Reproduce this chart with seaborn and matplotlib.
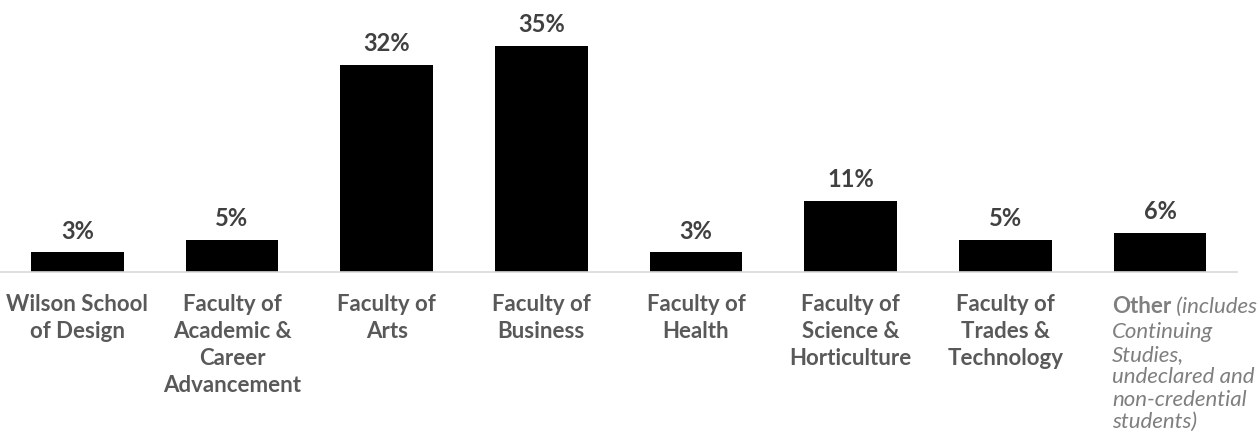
import matplotlib
matplotlib.use("Agg")
import matplotlib.pyplot as plt
import seaborn as sns
import pandas as pd

categories = [
    "Wilson School\nof Design",
    "Faculty of\nAcademic &\nCareer\nAdvancement",
    "Faculty of\nArts",
    "Faculty of\nBusiness",
    "Faculty of\nHealth",
    "Faculty of\nScience &\nHorticulture",
    "Faculty of\nTrades &\nTechnology",
    "Other",
]
values = [3, 5, 32, 35, 3, 11, 5, 6]
value_labels = ["3%", "5%", "32%", "35%", "3%", "11%", "5%", "6%"]
other_bold = "Other"
other_italic_first = " (includes"
other_italic_rest = "Continuing\nStudies,\nundeclared and\nnon-credential\nstudents)"

sns.set_style("white")
plt.rcParams["font.family"] = ["Lato", "DejaVu Sans"]

df = pd.DataFrame({"cat": categories, "val": values})

fig = plt.figure(figsize=(12.6, 4.42), dpi=100)
ax = fig.add_axes([0.0, 0.385, 0.982, 0.615])

sns.barplot(data=df, x="cat", y="val", color="black", width=0.6, ax=ax,
            saturation=1, edgecolor="none")

ax.set_ylim(0, 42.1)
ax.set_xlim(-0.5, len(categories) - 0.5)
ax.set_xlabel("")
ax.set_ylabel("")
ax.set_yticks([])

for s in ["top", "right", "left"]:
    ax.spines[s].set_visible(False)
ax.spines["bottom"].set_color("#d9d9d9")
ax.spines["bottom"].set_linewidth(1.2)

ax.bar_label(ax.containers[0], labels=value_labels, padding=7,
             fontsize=17, fontweight="bold", color="#404040")

ax.tick_params(axis="x", length=0, pad=16)
ticklabels = list(categories[:-1]) + [""]
ax.set_xticks(range(len(categories)))
ax.set_xticklabels(ticklabels, fontsize=16, fontweight="bold",
                   color="#595959", linespacing=1.35, va="top")

# "Other" label with bold + italic parts
trans = matplotlib.transforms.blended_transform_factory(ax.transData, ax.transAxes)
t_other = ax.text(len(categories) - 1 - 0.31, -0.088, other_bold, transform=trans,
                  fontsize=16, fontweight="bold", color="#7f7f7f",
                  ha="left", va="top")
ax.annotate(other_italic_first, xy=(1, 0), xycoords=t_other, ha="left", va="bottom",
            fontsize=16, fontstyle="italic", color="#7f7f7f")
ax.annotate(other_italic_rest, xy=(0, 0), xycoords=t_other, xytext=(0, -4),
            textcoords="offset points", ha="left", va="top",
            fontsize=16, fontstyle="italic", color="#7f7f7f", linespacing=1.15)

fig.savefig("out.png", dpi=100)
